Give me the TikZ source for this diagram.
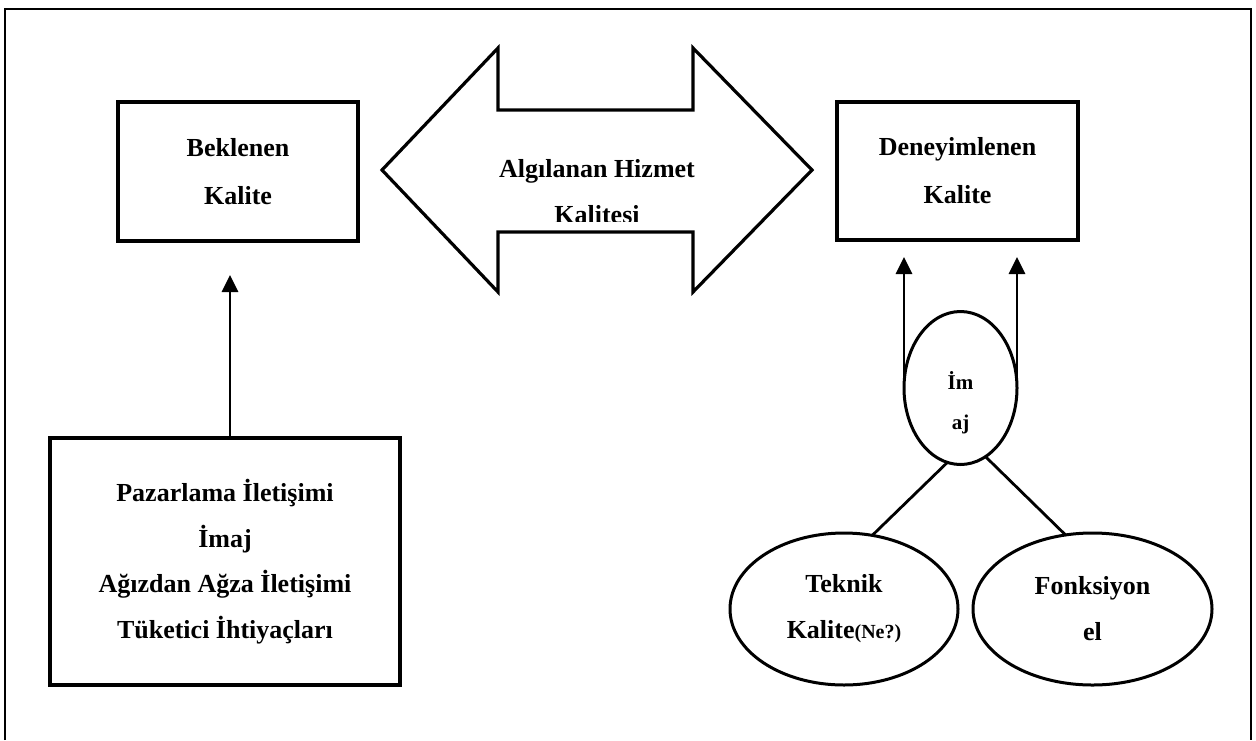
\documentclass[tikz,border=0pt]{standalone}
\usepackage{fontspec}
\setmainfont{Liberation Serif}
\usetikzlibrary{arrows.meta,shapes.geometric}
\begin{document}
\begin{tikzpicture}[x=1pt,y=-1pt,
  box/.style={draw,line width=3.4pt,inner sep=0pt,outer sep=0pt,align=center,
    font=\bfseries\fontsize{26}{48}\selectfont},
  oval/.style={draw,ellipse,line width=3pt,inner sep=0pt,outer sep=0pt,align=center,
    font=\bfseries\fontsize{26}{46}\selectfont},
  lbl/.style={align=center,inner sep=0pt,font=\bfseries\fontsize{26}{46}\selectfont},
  conn/.style={line width=2.8pt},
  arr/.style={conn,-{Triangle[width=16pt,length=17pt]}}]
\useasboundingbox (0,0) rectangle (1256,740);

% outer frame (open at the bottom)
\draw[line width=2.2pt] (5,740) -- (5,9) -- (1251,9) -- (1251,740);

% quality boxes
\node[box,minimum width=240pt,minimum height=139pt] (bek) at (238,171.5) {Beklenen\\Kalite};
\node[box,minimum width=241pt,minimum height=138pt] (den) at (957.5,171) {Deneyimlenen\\Kalite};
\node[box,minimum width=350pt,minimum height=247pt,
  font=\bfseries\fontsize{26}{45.5}\selectfont] (paz) at (225,561.5)
  {Pazarlama İletişimi\\İmaj\\Ağızdan Ağza İletişimi\\Tüketici İhtiyaçları};

% double-headed arrow
\draw[line width=3.2pt,line join=miter]
  (382,170) -- (498,48) -- (498,110) -- (693,110) -- (693,48) -- (812,170)
  -- (693,292) -- (693,232) -- (498,232) -- (498,292) -- cycle;
\begin{scope}
  \clip (380,40) rectangle (815,221);
  \node[lbl] (alg) at (597,192) {Algılanan Hizmet\\Kalitesi};
\end{scope}

% image and quality ellipses
\node[oval,minimum width=113pt,minimum height=153pt] (imaj) at (960.5,388) {};
\node[lbl,font=\bfseries\fontsize{21}{40}\selectfont] (imajtxt) at (960.5,403) {İm\\aj};
\node[oval,minimum width=228pt,minimum height=152pt] (tek) at (844,609)
  {Teknik\\Kalite{\fontsize{20}{46}\selectfont(Ne?)}};
\node[oval,minimum width=239pt,minimum height=152pt] (fon) at (1092.5,609) {Fonksiyon\\el};

% connectors
\coordinate (bek-in) at (230,275);
\draw[arr] (paz.north -| bek-in) -- (bek-in);
\coordinate (den-l) at (904,257);
\coordinate (den-r) at (1017,257);
\draw[arr] (imaj.west) -- (den-l);
\draw[arr] (imaj.east) -- (den-r);
\draw[conn] (imaj.260.8) -- (tek.69.3);
\draw[conn] (imaj.290.6) -- (fon.110.4);
\end{tikzpicture}
\end{document}
